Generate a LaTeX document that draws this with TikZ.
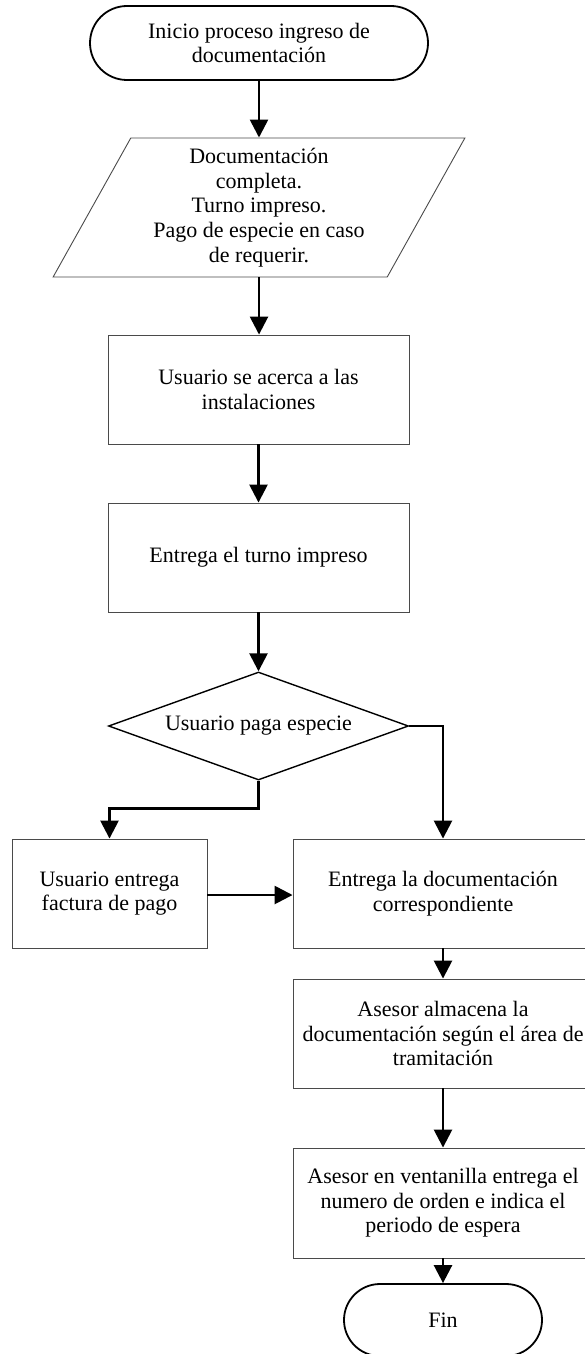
\documentclass[tikz,border=0pt]{standalone}
\usepackage{fontspec}
\setmainfont{Liberation Serif}
\usetikzlibrary{arrows.meta, shapes.geometric, positioning}
\definecolor{bordegris}{HTML}{4A4A4A}

\begin{document}
\begin{tikzpicture}[x=1pt, y=-1pt]
  \tikzset{every node/.style={align=center, font=\fontsize{22}{24.6}\selectfont}};
  \tikzset{term/.style={draw=black, line width=1.8pt, rounded corners=37pt, inner sep=0pt}};
  \tikzset{proc/.style={rectangle, draw=bordegris, line width=0.9pt, minimum width=301pt, minimum height=109pt, inner sep=0pt}};
  \tikzset{datos/.style={trapezium, trapezium left angle=61.6, trapezium right angle=118.4, trapezium stretches=true, draw=bordegris, line width=0.9pt, inner sep=0pt}};
  \tikzset{decis/.style={diamond, aspect=2.8, draw=black, line width=1.4pt, inner sep=0pt}};
  \tikzset{flecha/.style={line width=2.6pt, -{Triangle[width=18pt, length=18pt]}}};

  \useasboundingbox (0,0) rectangle (584,1354);
  \fill[white] (0,0) rectangle (584,1354);

  % columna central
  \node[term, minimum width=338pt, minimum height=74pt] (inicio) at (259,43) {Inicio proceso ingreso de\\documentación};
  \node[datos, minimum width=412pt, minimum height=139pt] (docs) at (259,207.5) {Documentación\\completa.\\Turno impreso.\\Pago de especie en caso\\de requerir.};
  \node[proc] (acerca) at (258.5,389.5) {Usuario se acerca a las\\instalaciones};
  \node[proc] (turno) at (258.5,557.5) {Entrega el turno impreso};
  \node[decis, minimum width=300pt, minimum height=108pt] (paga) at (258.5,726) {Usuario paga especie};

  % ramas de la decision
  \node[proc, minimum width=195pt] (factura) at (109.5,893.5) {Usuario entrega\\factura de pago};
  \node[proc, minimum width=300pt] (entrega) at (443,893.5) {Entrega la documentación\\correspondiente};
  \node[proc, minimum width=300pt] (almacena) at (443,1033.5) {Asesor almacena la\\documentación según el área de\\tramitación};
  \node[proc, minimum width=300pt, minimum height=110pt] (ventanilla) at (443,1203) {Asesor en ventanilla entrega el\\numero de orden e indica el\\periodo de espera};
  \node[term, minimum width=198pt, minimum height=72pt, rounded corners=36pt] (fin) at (443,1320) {Fin};

  \draw[flecha] (inicio.south) -- (inicio.south |- docs.north);
  \draw[flecha] (docs.south) -- (docs.south |- acerca.north);
  \draw[flecha] (acerca) -- (turno);
  \draw[flecha] (turno) -- (paga);
  \draw[flecha] (paga.south) -- ++(0,28) -| (factura.north);
  \draw[flecha] (paga.east) -| (entrega.north);
  \draw[flecha] (factura.east |- 0,895) -- (entrega.west |- 0,895);
  \draw[flecha] (entrega) -- (almacena);
  \draw[flecha] (almacena) -- (ventanilla);
  \draw[flecha] (ventanilla) -- (fin);
\end{tikzpicture}
\end{document}
